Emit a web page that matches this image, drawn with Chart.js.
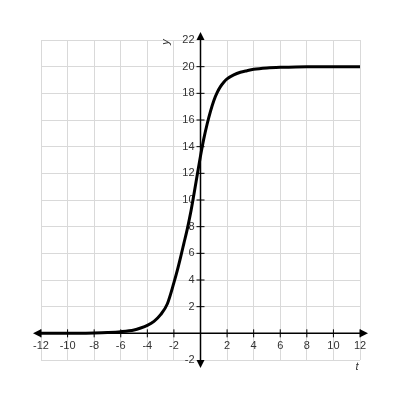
<!DOCTYPE html>
<html>
<head>
<meta charset="utf-8">
<script src="https://cdn.jsdelivr.net/npm/chart.js@4/dist/chart.umd.min.js"></script>
<style>
  html, body { margin: 0; padding: 0; background: #fff; }
  #wrap { width: 400px; height: 400px; }
</style>
</head>
<body>
<div id="wrap"><canvas id="chartLogistic" width="400" height="400"></canvas></div>
<script>
// Valeurs
const tValues = [-12, -10, -8, -7, -6, -5, -4.5, -4, -3.5, -3, -2.5, -2, -1.75, -1.5, -1.25, -1, -0.75, -0.5, -0.25, 0, 0.25, 0.5, 0.75, 1, 1.25, 1.5, 1.75, 2, 2.5, 3, 3.5, 4, 5, 6, 8, 10, 12];
const yValues = [0, 0, 0.03, 0.06, 0.12, 0.25, 0.4, 0.6, 0.9, 1.4, 2.2, 3.8, 4.7, 5.7, 6.75, 7.8, 9.0, 10.4, 11.85, 13.3, 14.6, 15.7, 16.65, 17.45, 18.05, 18.5, 18.83, 19.08, 19.38, 19.58, 19.7, 19.8, 19.9, 19.95, 20, 20, 20];

const xTicks = [-12, -10, -8, -6, -4, -2, 2, 4, 6, 8, 10, 12];
const yTicks = [-2, 2, 4, 6, 8, 10, 12, 14, 16, 18, 20, 22];

// Axes centrés, flèches et étiquettes
const axesPlugin = {
    id: 'axesCentres',
    beforeDatasetsDraw(chart) {
        const ctx = chart.ctx;
        const xs = chart.scales.x;
        const ys = chart.scales.y;
        const x0 = xs.getPixelForValue(0);
        const y0 = ys.getPixelForValue(0);
        const area = chart.chartArea;
        const ext = 8;

        ctx.save();
        ctx.strokeStyle = '#000';
        ctx.fillStyle = '#000';
        ctx.lineWidth = 1.5;

        // axe horizontal
        ctx.beginPath();
        ctx.moveTo(area.left - ext + 4, y0);
        ctx.lineTo(area.right + ext - 4, y0);
        ctx.stroke();
        // axe vertical
        ctx.beginPath();
        ctx.moveTo(x0, area.top - ext + 4);
        ctx.lineTo(x0, area.bottom + ext - 4);
        ctx.stroke();

        // flèches
        const arrow = (tx, ty, dx, dy) => {
            const px = -dy, py = dx;
            ctx.beginPath();
            ctx.moveTo(tx, ty);
            ctx.lineTo(tx - dx * 8 + px * 4, ty - dy * 8 + py * 4);
            ctx.lineTo(tx - dx * 8 - px * 4, ty - dy * 8 - py * 4);
            ctx.closePath();
            ctx.fill();
        };
        arrow(area.right + ext, y0, 1, 0);
        arrow(area.left - ext, y0, -1, 0);
        arrow(x0, area.top - ext, 0, -1);
        arrow(x0, area.bottom + ext, 0, 1);

        // graduations
        ctx.lineWidth = 1;
        ctx.font = '11px "Liberation Sans", Arial, sans-serif';
        ctx.fillStyle = '#333';
        ctx.textAlign = 'center';
        ctx.textBaseline = 'middle';
        xTicks.forEach(v => {
            const px = xs.getPixelForValue(v);
            ctx.beginPath();
            ctx.moveTo(px, y0 - 4);
            ctx.lineTo(px, y0 + 4);
            ctx.stroke();
            ctx.fillText(String(v), px, y0 + 13);
        });
        ctx.textAlign = 'right';
        yTicks.forEach(v => {
            const py = ys.getPixelForValue(v);
            if (v !== -2 && v !== 22) {
                ctx.beginPath();
                ctx.moveTo(x0 - 4, py);
                ctx.lineTo(x0 + 4, py);
                ctx.stroke();
            }
            ctx.fillText(String(v), x0 - 6, py);
        });

        // noms des axes
        ctx.font = 'italic 11px "Liberation Sans", Arial, sans-serif';
        ctx.textAlign = 'center';
        ctx.fillText('t', area.right - 3, area.bottom + 7);
        ctx.save();
        ctx.translate(x0 - 35, area.top + 2);
        ctx.rotate(-Math.PI / 2);
        ctx.fillText('y', 0, 0);
        ctx.restore();

        ctx.restore();
    }
};

const canvas = document.getElementById('chartLogistic');

const chart = new Chart(canvas, {
    type: 'scatter',
    data: {
        datasets: [{
            data: tValues.map((t, i) => ({ x: t, y: yValues[i] })),
            showLine: true,
            borderColor: '#000',
            borderWidth: 3,
            pointRadius: 0,
            cubicInterpolationMode: 'monotone',
            fill: false
        }]
    },
    options: {
        responsive: false,
        animation: false,
        layout: {
            padding: { left: 41, right: 40, top: 40, bottom: 40 }
        },
        plugins: {
            legend: { display: false },
            tooltip: { enabled: false }
        },
        scales: {
            x: {
                type: 'linear',
                min: -12,
                max: 12,
                ticks: { display: false, stepSize: 2 },
                grid: { color: '#d9d9d9', lineWidth: 1, drawTicks: false },
                border: { display: false }
            },
            y: {
                type: 'linear',
                min: -2,
                max: 22,
                ticks: { display: false, stepSize: 2 },
                grid: { color: '#d9d9d9', lineWidth: 1, drawTicks: false },
                border: { display: false }
            }
        }
    },
    plugins: [axesPlugin]
});
</script>
</body>
</html>
